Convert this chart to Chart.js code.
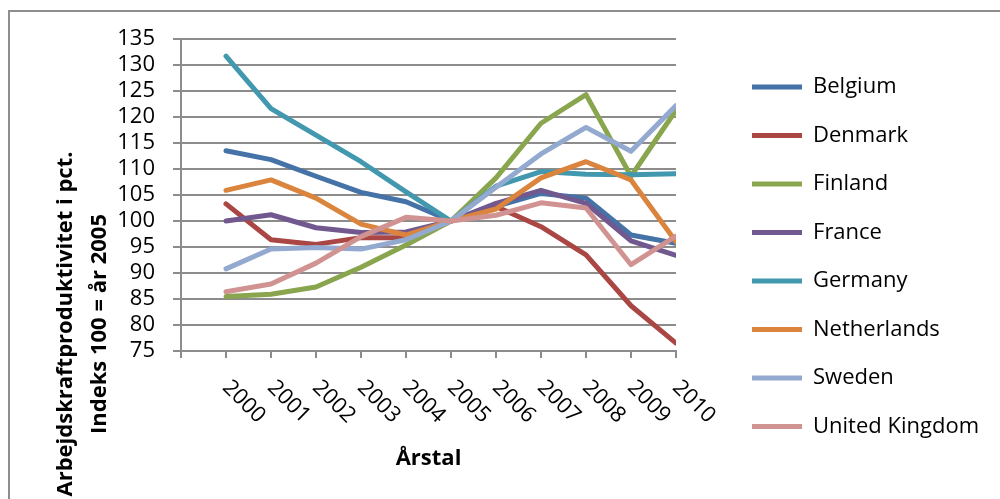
<!DOCTYPE html>
<html>
<head>
<meta charset="utf-8">
<script src="https://cdn.jsdelivr.net/npm/chart.js@4.4.1/dist/chart.umd.min.js"></script>
<style>
  html, body { margin: 0; padding: 0; background: #fff; overflow: hidden; }
  canvas { display: block; }
</style>
</head>
<body>
<canvas id="chart" width="1000" height="499"></canvas>
<script>
const years = [2000, 2001, 2002, 2003, 2004, 2005, 2006, 2007, 2008, 2009, 2010];

const belgium     = [113.5, 111.8, 108.6, 105.5, 103.7, 100, 102.8, 105.3, 104.4, 97.3, 95.7];
const denmark     = [103.3, 96.4, 95.5, 96.8, 96.8, 100, 102.8, 98.9, 93.5, 83.7, 76.5];
const finland     = [85.5, 85.9, 87.3, 91.1, 95.4, 100, 108.3, 118.8, 124.3, 108.6, 121.3];
const france      = [100.0, 101.2, 98.7, 97.8, 97.9, 100, 103.4, 105.9, 103.4, 96.2, 93.4];
const germany     = [131.7, 121.6, 116.5, 111.4, 105.6, 100, 106.7, 109.5, 109.0, 108.9, 109.1];
const netherlands = [105.9, 107.9, 104.4, 99.4, 97.3, 100, 102.3, 108.3, 111.4, 107.9, 96.0];
const sweden      = [90.8, 94.6, 94.9, 94.6, 96.4, 100, 106.5, 112.9, 118.0, 113.4, 122.2];
const uk          = [86.4, 87.9, 91.9, 97.0, 100.7, 100, 101.1, 103.5, 102.5, 91.6, 97.1];

const countries = ['Belgium', 'Denmark', 'Finland', 'France', 'Germany', 'Netherlands', 'Sweden', 'United Kingdom'];
const series = [belgium, denmark, finland, france, germany, netherlands, sweden, uk];
const colors = ['#4572A7', '#AA4643', '#89A54E', '#71588F', '#4198AF', '#DB843D', '#93A9CF', '#D19392'];

const yMin = 75, yMax = 135, yStep = 5;
const yTitle = ['Arbejdskraftproduktivitet i pct.', 'Indeks 100 = år 2005'];
const xTitle = 'Årstal';

Chart.defaults.font.family = "'Open Sans', sans-serif";
Chart.defaults.font.size = 22;
Chart.defaults.color = '#000';

// ramme om hele figuren (kun venstre og øverste kant er synlige)
const frame = {
  id: 'frame',
  beforeDraw(chart) {
    const { ctx, width, height } = chart;
    ctx.save();
    ctx.strokeStyle = '#8e8e8e';
    ctx.lineWidth = 2;
    ctx.beginPath();
    ctx.moveTo(9, height);
    ctx.lineTo(9, 11);
    ctx.lineTo(width, 11);
    ctx.stroke();
    ctx.restore();
  }
};

// årstal skrives skråt nedad mod højre, og y-titlen står i to linjer
const extraText = {
  id: 'extraText',
  afterDraw(chart) {
    const { ctx, chartArea, scales } = chart;
    ctx.save();
    ctx.fillStyle = '#000';
    ctx.font = "22px 'Open Sans', sans-serif";
    ctx.textAlign = 'left';
    ctx.textBaseline = 'middle';
    years.forEach(yr => {
      ctx.save();
      ctx.translate(scales.x.getPixelForValue(yr), chartArea.bottom + 33);
      ctx.rotate(Math.PI / 4);
      ctx.fillText(String(yr), 0, 0);
      ctx.restore();
    });

    ctx.font = "bold 22px 'Open Sans', sans-serif";
    ctx.textAlign = 'center';
    ctx.textBaseline = 'alphabetic';
    yTitle.forEach((line, i) => {
      ctx.save();
      ctx.translate(72 + i * 34, 324);
      ctx.rotate(-Math.PI / 2);
      ctx.fillText(line, 0, 0);
      ctx.restore();
    });
    ctx.restore();
  }
};

const datasets = countries.map((name, i) => ({
  label: name,
  data: years.map((yr, j) => ({ x: yr, y: series[i][j] })),
  borderColor: colors[i],
  backgroundColor: colors[i],
  borderWidth: 5,
  borderCapStyle: 'round',
  borderJoinStyle: 'round',
  pointRadius: 0,
  tension: 0,
  yAxisID: 'y',
  order: countries.length - i
}));

const grey = '#8c8c8c';

new Chart(document.getElementById('chart').getContext('2d'), {
  type: 'line',
  data: { datasets },
  plugins: [frame, extraText],
  options: {
    responsive: false,
    animation: false,
    devicePixelRatio: 1,
    layout: { padding: { top: 39, right: 11, bottom: 24.5, left: 0 } },
    plugins: {
      tooltip: { enabled: false },
      legend: {
        position: 'right',
        maxWidth: 300,
        labels: {
          usePointStyle: true,
          pointStyle: 'line',
          pointStyleWidth: 50,
          padding: 26.5,
          color: '#000',
          font: { size: 22 },
          sort: (a, b) => a.datasetIndex - b.datasetIndex
        }
      }
    },
    scales: {
      x: {
        type: 'linear',
        min: 1999,
        max: 2010,
        ticks: { stepSize: 1, display: false },
        grid: { drawOnChartArea: false, color: grey, lineWidth: 2, tickLength: 7 },
        border: { color: grey, width: 2 },
        title: {
          display: true,
          text: xTitle,
          font: { size: 22, weight: 'bold' },
          padding: { top: 87.8, bottom: 2.3 }
        }
      },
      y: {
        min: yMin,
        max: yMax,
        ticks: { stepSize: yStep, padding: 18, color: '#000', autoSkip: false },
        grid: { color: grey, lineWidth: 2, tickLength: 8 },
        border: { color: grey, width: 2 },
        afterFit(scale) { scale.width = 181; }
      },
      gap: {
        type: 'linear',
        position: 'right',
        grid: { display: false },
        border: { display: false },
        ticks: { display: false },
        afterFit(scale) { scale.width = 49.5; }
      }
    }
  }
});
</script>
</body>
</html>
